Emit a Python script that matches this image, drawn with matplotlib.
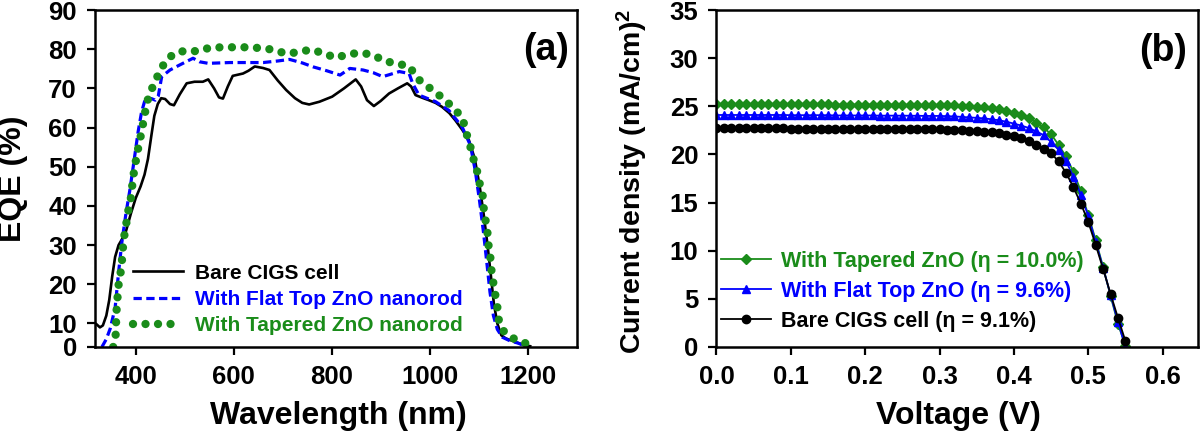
import matplotlib
matplotlib.use("Agg")
import matplotlib.pyplot as plt

plt.rcParams['font.family'] = ['Liberation Sans', 'DejaVu Sans']
plt.rcParams['font.weight'] = 'bold'
plt.rcParams['mathtext.fontset'] = 'custom'
plt.rcParams['mathtext.rm'] = 'Liberation Sans:bold'
plt.rcParams['mathtext.bf'] = 'Liberation Sans:bold'
plt.rcParams['mathtext.default'] = 'bf'

GREEN = '#1a8c1a'
BLUE = '#0000ff'

# ---- (a) EQE data ----
bare_wl = [320, 327, 333, 340, 346, 352, 358, 365, 372, 380, 390, 400, 410, 418, 425, 432,
           438, 445, 452, 460, 470, 478, 490, 504, 520, 537, 548, 560, 570, 578, 588, 598,
           619, 630, 643, 660, 673, 690, 707, 725, 740, 754, 775, 801, 825, 849, 860, 872,
           886, 900, 917, 935, 954, 962, 971, 985, 998, 1012, 1025, 1040, 1052, 1066, 1080,
           1092, 1102, 1110, 1118, 1125, 1131, 1138, 1146, 1155, 1170, 1190, 1205]
bare_eqe = [9.8, 9.0, 9.5, 12, 16, 22, 27, 30, 31.5, 33.5, 38, 42, 45, 48, 52, 58,
            63, 66, 67.5, 67.3, 66, 65.7, 68.5, 71.3, 71.7, 71.7, 72.3, 70, 67.7, 67.4, 70.5, 73.2,
            73.8, 74.5, 75.6, 75.2, 74.7, 72, 69.6, 67.5, 66.3, 65.9, 66.6, 67.9, 70, 72.3, 70.5, 67,
            65.5, 66.8, 68.7, 70, 71.3, 70.5, 68.3, 67.6, 67, 66.3, 65.3, 63.7, 61.9, 59.5, 56.8,
            52, 45, 38, 30, 22, 15, 10, 7, 6.2, 5.5, 4.6, 4.2]

flat_wl = [331, 340, 348, 358, 365, 372, 380, 388, 396, 405, 412, 420, 432, 440, 446, 453,
           470, 490, 517, 530, 548, 592, 660, 690, 714, 740, 762, 790, 817, 837, 864, 885,
           904, 920, 938, 958, 965, 978, 1012, 1039, 1066, 1083, 1093, 1102, 1110, 1117, 1123,
           1130, 1138, 1148, 1165, 1180, 1195]
flat_eqe = [4, 6, 8.7, 14, 23, 31, 38, 44, 51, 59, 64, 67.5, 67.4, 67, 68, 73,
            74.7, 76, 77.7, 76.8, 76.4, 76.6, 76.6, 77, 77.4, 76.5, 75.5, 74.5, 73.4, 75.1, 74.7, 74,
            73, 73.6, 74.3, 73.8, 71.3, 68.3, 66.6, 64.4, 60.2, 55.5, 49, 41, 33, 25, 18,
            12, 8.5, 6.5, 5.5, 5, 4.2]

taper_wl = [354, 359, 360, 361, 363, 365, 369, 372, 374, 377, 381, 385, 390, 393, 396, 400,
            405, 410, 415, 420, 426, 436, 447, 460, 478, 500, 525, 552, 578, 603, 628, 654,
            680, 706, 731, 756, 781, 808, 833, 858, 883, 908, 933, 958, 976, 1000, 1024, 1049,
            1067, 1075, 1083, 1089, 1097, 1102, 1108, 1110, 1114, 1118, 1120, 1124, 1126, 1130,
            1134, 1138, 1141, 1152, 1177, 1202]
taper_eqe = [4, 7, 10.4, 13.4, 16.8, 19.8, 22.8, 26.2, 29.4, 32.6, 35.7, 38.9, 41.9, 45.3, 48.3, 51.3,
             54.7, 57.7, 61, 64.5, 67.8, 70.8, 73.8, 76.8, 78.9, 79.6, 79.5, 80.4, 80.5, 80.5, 80.5, 80.3,
             79.9, 78.9, 79.2, 79.9, 79.1, 77.8, 78.7, 79.1, 78.6, 77.0, 76.3, 75.7, 72.4, 70.1, 67.8, 65.0,
             62.4, 58.5, 55.1, 52.1, 48.7, 45.7, 42.7, 39.6, 36.3, 33, 30, 26.6, 23.6, 20.2,
             17.2, 14.2, 10.9, 7.8, 5.7, 4.7]

wl_ticks = [400, 600, 800, 1000, 1200]
eqe_ticks = [4, 10, 20, 30, 40, 50, 60, 70, 80, 90]
eqe_labels = ['0', '10', '20', '30', '40', '50', '60', '70', '80', '90']

# ---- (b) J-V data ----
voltage = [0.00, 0.01, 0.02, 0.03, 0.04, 0.05, 0.06, 0.07, 0.08, 0.09,
           0.10, 0.11, 0.12, 0.13, 0.14, 0.15, 0.16, 0.17, 0.18, 0.19,
           0.20, 0.21, 0.22, 0.23, 0.24, 0.25, 0.26, 0.27, 0.28, 0.29,
           0.30, 0.31, 0.32, 0.33, 0.34, 0.35, 0.36, 0.37, 0.38, 0.39,
           0.40, 0.41, 0.42, 0.43, 0.44, 0.45, 0.46, 0.47, 0.48, 0.49,
           0.50, 0.51, 0.52, 0.53, 0.54, 0.55]
j_taper = [25.2, 25.2, 25.2, 25.2, 25.2, 25.2, 25.2, 25.2, 25.2, 25.2,
           25.2, 25.2, 25.2, 25.2, 25.2, 25.2, 25.18, 25.18, 25.18, 25.18,
           25.18, 25.18, 25.18, 25.18, 25.18, 25.18, 25.15, 25.15, 25.15, 25.15,
           25.15, 25.12, 25.1, 25.05, 25.0, 24.95, 24.9, 24.8, 24.7, 24.55,
           24.35, 24.1, 23.8, 23.3, 22.8, 22.1, 21.0, 19.8, 18.2, 16.2,
           13.7, 11.1, 8.3, 5.3, 2.4, 0.1]
j_flat = [24.1, 24.1, 24.1, 24.1, 24.1, 24.1, 24.1, 24.1, 24.1, 24.1,
          24.08, 24.08, 24.08, 24.08, 24.08, 24.08, 24.05, 24.05, 24.05, 24.05,
          24.05, 24.05, 24.03, 24.03, 24.03, 24.03, 24.02, 24.02, 24.0, 24.0,
          24.0, 23.98, 23.95, 23.9, 23.85, 23.8, 23.75, 23.65, 23.55, 23.4,
          23.2, 23.0, 22.75, 22.4, 22.0, 21.3, 20.5, 19.3, 17.7, 15.8,
          13.6, 10.9, 8.2, 5.4, 2.6, 0.0]
j_bare = [22.7, 22.7, 22.7, 22.7, 22.7, 22.7, 22.7, 22.7, 22.7, 22.7,
          22.68, 22.68, 22.68, 22.68, 22.68, 22.68, 22.66, 22.66, 22.66, 22.66,
          22.65, 22.65, 22.64, 22.64, 22.63, 22.63, 22.62, 22.62, 22.61, 22.6,
          22.6, 22.58, 22.55, 22.5, 22.45, 22.4, 22.35, 22.3, 22.2, 22.05,
          21.9, 21.7, 21.4, 21.0, 20.6, 20.1, 19.3, 18.1, 16.6, 14.9,
          13.0, 10.6, 8.1, 5.5, 3.0, 0.6]

v_ticks = [0.0, 0.1, 0.2, 0.3, 0.4, 0.5, 0.6]
j_ticks = [0, 5, 10, 15, 20, 25, 30, 35]

fig = plt.figure(figsize=(12, 4.37), dpi=100)
ax1 = fig.add_axes([0.0792, 0.206, 0.4014, 0.771])
ax2 = fig.add_axes([0.597, 0.206, 0.401, 0.771])

for ax in (ax1, ax2):
    for s in ax.spines.values():
        s.set_linewidth(1.8)
    ax.tick_params(direction='out', length=6, width=1.6, labelsize=18.5, pad=7)

# panel (a)
ax1.plot(bare_wl, bare_eqe, color='black', lw=1.9, label='Bare CIGS cell')
ax1.plot(flat_wl, flat_eqe, color=BLUE, lw=2.3, linestyle=(0, (2.6, 1.4)),
         label='With Flat Top ZnO nanorod')
ax1.plot(taper_wl, taper_eqe, color=GREEN, lw=6, linestyle=(0, (0.001, 1.5)),
         dash_capstyle='round', label='With Tapered ZnO nanorod')
ax1.set_xlim(317, 1300)
ax1.set_ylim(4, 90)
ax1.set_xticks(wl_ticks)
ax1.set_yticks(eqe_ticks)
ax1.set_yticklabels(eqe_labels)
ax1.set_xlabel('Wavelength (nm)', fontsize=23, fontweight='bold')
ax1.set_ylabel('EQE (%)', fontsize=23, fontweight='bold')
ax1.xaxis.set_label_coords(0.505, -0.16)
ax1.yaxis.set_label_coords(-0.14, 0.5)
ax1.text(0.984, 0.88, '(a)', transform=ax1.transAxes, fontsize=27,
         fontweight='bold', ha='right', va='center')
leg1 = ax1.legend(loc='lower left', bbox_to_anchor=(0.078, 0.035), frameon=False,
                  fontsize=15, handlelength=2.4, handletextpad=0.6,
                  labelspacing=0.35, borderpad=0, borderaxespad=0)
for txt, c in zip(leg1.get_texts(), ['black', BLUE, GREEN]):
    txt.set_color(c)
    txt.set_fontweight('bold')

# panel (b)
ax2.plot(voltage, j_taper, color=GREEN, lw=1.3, marker='D', ms=5.5, mec=GREEN, mfc=GREEN,
         label='With Tapered ZnO (η = 10.0%)')
ax2.plot(voltage, j_flat, color=BLUE, lw=1.3, marker='^', ms=6, mec=BLUE, mfc=BLUE,
         label='With Flat Top ZnO (η = 9.6%)')
ax2.plot(voltage, j_bare, color='black', lw=1.3, marker='o', ms=6, mec='black', mfc='black',
         label='Bare CIGS cell (η = 9.1%)')
ax2.set_xlim(0, 0.647)
ax2.set_ylim(0, 35)
ax2.set_xticks(v_ticks)
ax2.set_xticklabels(['%.1f' % v for v in v_ticks])
ax2.set_yticks(j_ticks)
ax2.set_xlabel('Voltage (V)', fontsize=23, fontweight='bold')
ax2.set_ylabel(r'Current density (mA/cm)$^2$', fontsize=20.5, fontweight='bold')
ax2.xaxis.set_label_coords(0.502, -0.16)
ax2.yaxis.set_label_coords(-0.138, 0.49)
ax2.text(0.979, 0.878, '(b)', transform=ax2.transAxes, fontsize=27,
         fontweight='bold', ha='right', va='center')
leg2 = ax2.legend(loc='lower left', bbox_to_anchor=(0.01, 0.045), frameon=False,
                  fontsize=15.5, handlelength=2.3, handletextpad=0.5,
                  labelspacing=0.42, borderpad=0, borderaxespad=0)
for txt, c in zip(leg2.get_texts(), [GREEN, BLUE, 'black']):
    txt.set_color(c)
    txt.set_fontweight('bold')

for ax in (ax1, ax2):
    for lab in ax.get_xticklabels() + ax.get_yticklabels():
        lab.set_fontweight('bold')

fig.savefig('out.png', dpi=100)
